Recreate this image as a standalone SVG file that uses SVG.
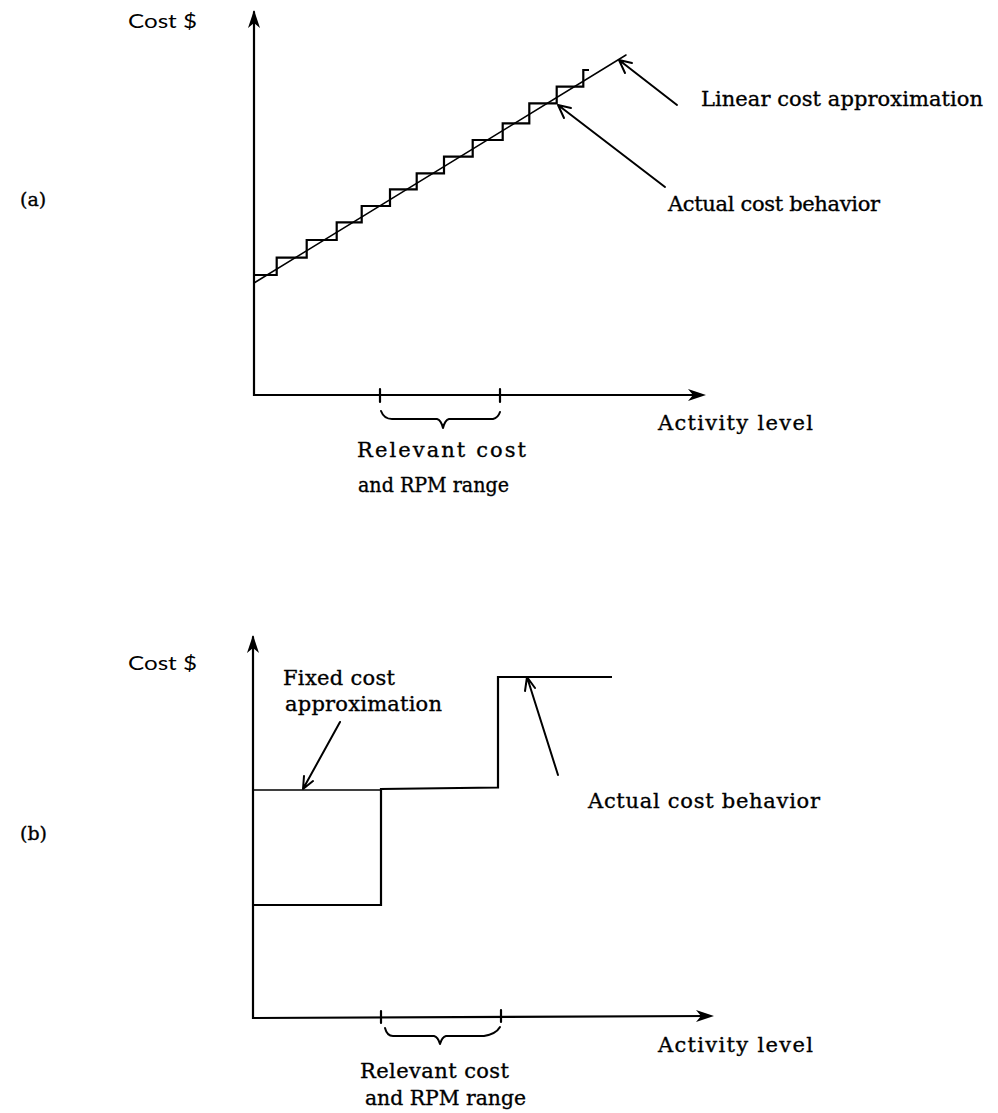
<svg xmlns="http://www.w3.org/2000/svg" width="998" height="1113" viewBox="0 0 998 1113">
  <style>
    .ax { fill: none; stroke: #000; stroke-width: 2.2; stroke-linecap: round; }
    .thin { fill: none; stroke: #000; stroke-width: 1.5; stroke-linecap: round; }
    .curve { fill: none; stroke: #000; stroke-width: 2.2; stroke-linejoin: miter; }
    .ptr { fill: none; stroke: #000; stroke-width: 2; stroke-linecap: round; stroke-linejoin: round; }
    .head { fill: #000; stroke: none; }
    .lbl { font-family: "DejaVu Serif", "Liberation Serif", serif; font-size: 21px; fill: #000; stroke: #000; stroke-width: 0.35; }
    .axl { font-family: Lato, "Liberation Sans", sans-serif; font-size: 19px; fill: #000; }
  </style>
  <defs>
    <!-- barbed head for axis ends, pointing along +x -->
    <path id="axhead" class="head" d="M0,0 L-18,-6 L-13,0 L-18,6 Z"/>
  </defs>

  <!-- panel (a): step costs with linear approximation -->
  <g id="panel-a">
    <g id="a-axes">
      <path class="ax" d="M254,12 V395 H700"/>
      <use href="#axhead" transform="translate(254,10) rotate(-90)"/>
      <use href="#axhead" transform="translate(706,395)"/>
      <path class="ax" d="M380,389 V402 M500,389 V402"/>
    </g>
    <g id="a-range">
      <path class="ptr" d="M381,411 Q384,419 392,419 H437 Q441,420 443,428 Q445,420 449,419 H493 Q498,418 500,412"/>
      <text class="lbl" x="357" y="457" textLength="169" lengthAdjust="spacing">Relevant cost</text>
      <text class="lbl" x="358" y="492" textLength="151" lengthAdjust="spacingAndGlyphs">and RPM range</text>
    </g>
    <g id="a-linear">
      <path class="thin" d="M254,283 L626,55"/>
    </g>
    <g id="a-actual">
      <path class="curve" d="M254,275 H276.7 V257.7 H306.7 V240 H336.7 V222.3 H361.7 V206 H390 V189.3 H416.7 V173.3 H444 V156.7 H472.7 V140 H502.7 V123.3 H529.3 V103.3 H556.7 V86.7 H583.3 V70 H589"/>
    </g>
    <g id="a-labels">
      <text class="axl" x="128" y="28" textLength="69" lengthAdjust="spacingAndGlyphs">Cost $</text>
      <text class="lbl" x="20" y="206" style="font-size:19px">(a)</text>
      <text class="lbl" x="658" y="430" textLength="155" lengthAdjust="spacing">Activity level</text>
      <text class="lbl" x="701" y="106" textLength="282" lengthAdjust="spacing">Linear cost approximation</text>
      <text class="lbl" x="668" y="211" textLength="212" lengthAdjust="spacing">Actual cost behavior</text>
    </g>
  </g>

  <!-- panel (b): fixed cost approximation -->
  <g id="panel-b">
    <g id="b-axes">
      <path class="ax" d="M253,637 V1018 L708,1016"/>
      <use href="#axhead" transform="translate(253,635) rotate(-90)"/>
      <use href="#axhead" transform="translate(714,1016)"/>
      <path class="ax" d="M381,1011 V1023 M501,1010 V1022"/>
    </g>
    <g id="b-range">
      <path class="ptr" d="M385,1028 Q387,1036 393,1036 H434 Q438,1037 440,1044 Q442,1037 446,1036 H484 Q496,1034 500,1027"/>
      <text class="lbl" x="360" y="1078" textLength="149" lengthAdjust="spacing">Relevant cost</text>
      <text class="lbl" x="365" y="1105" textLength="161" lengthAdjust="spacingAndGlyphs">and RPM range</text>
    </g>
    <g id="b-fixed">
      <path class="thin" d="M253,790 H381"/>
    </g>
    <g id="b-actual">
      <path class="curve" d="M253,905 H381 V789 L498,787.5 V677 H612"/>
    </g>
    <g id="b-labels">
      <text class="axl" x="128" y="670" textLength="69" lengthAdjust="spacingAndGlyphs">Cost $</text>
      <text class="lbl" x="20" y="840" style="font-size:19px">(b)</text>
      <text class="lbl" x="658" y="1052" textLength="155" lengthAdjust="spacing">Activity level</text>
      <text class="lbl" x="283" y="685" textLength="112" lengthAdjust="spacing">Fixed cost</text>
      <text class="lbl" x="285" y="711" textLength="157" lengthAdjust="spacing">approximation</text>
      <text class="lbl" x="588" y="808" textLength="232" lengthAdjust="spacing">Actual cost behavior</text>
    </g>
  </g>

  <!-- pointer arrows from labels to curves -->
  <g id="connectors">
    <path class="ptr" d="M677,105 L619,60 M619,60 L625,73 M619,60 L632,63"/>
    <path class="ptr" d="M665,187 L558,105 M558,105 L564,118 M558,105 L571,108"/>
    <path class="ptr" d="M340,722 L303,789 M303,789 L304,776 M303,789 L313,781"/>
    <path class="ptr" d="M558,775 L527,677 M527,677 L525,691 M527,677 L535,688"/>
  </g>
</svg>
